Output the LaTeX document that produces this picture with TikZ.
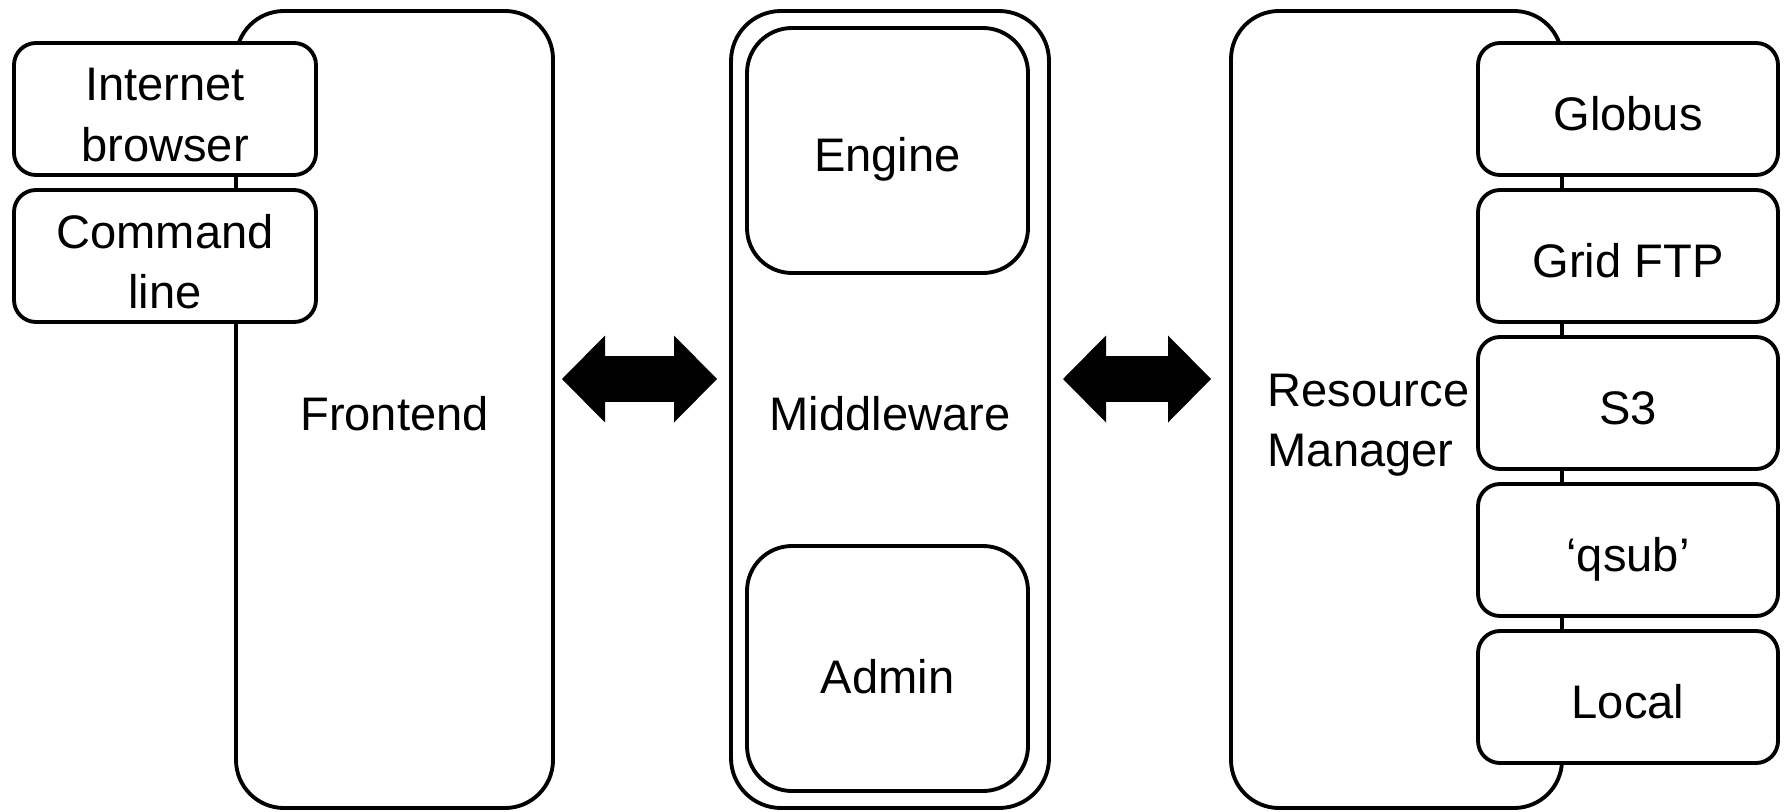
\documentclass[tikz,border=0pt]{standalone}
\usepackage{fontspec}
\setmainfont{Liberation Sans}
\usetikzlibrary{arrows.meta}

\tikzset{
	part/.style={draw, line width=1.1pt, rounded corners=0.48cm, inner sep=0pt, outer sep=0pt, minimum height=7.97cm},
	unit/.style={draw, line width=1.1pt, rounded corners=0.45cm, inner sep=0pt, outer sep=0pt, minimum width=2.81cm, minimum height=2.45cm},
	item/.style={draw, fill=white, line width=1.1pt, rounded corners=0.22cm, inner sep=0pt, outer sep=0pt, minimum width=3.0cm, minimum height=1.32cm},
	oneline/.style={text height=1.2em, text depth=0pt},
	twoline/.style={align=center, inner sep=0pt},
	twoway/.style={line width=0.46cm, {Triangle[length=0.43cm, width=0.87cm, line width=0pt]}-{Triangle[length=0.43cm, width=0.87cm, line width=0pt]}}
}

\begin{document}
\begin{tikzpicture}[font=\fontsize{13.4}{17.1}\selectfont]
		%%%%% START %%%%%
		\useasboundingbox (0, 0) rectangle (17.87, -8.11);
		
		% frontend
		\node[part, minimum width=3.17cm, oneline] (front) at (3.945, -4.095) {Frontend};
		\node[item, minimum width=3.02cm] (browser) at (1.65, -1.09) {};
		\node[twoline] (browsertext) at ([yshift=-0.06cm]browser.center) {Internet\\browser};
		\node[item, minimum width=3.02cm] (cmdline) at (1.65, -2.56) {};
		\node[twoline] (cmdlinetext) at ([yshift=-0.06cm]cmdline.center) {Command\\line};
		
		% middleware
		\node[part, minimum width=3.18cm, rounded corners=0.5cm, oneline] (mid) at (8.90, -4.095) {Middleware};
		\node[unit, oneline] (engine) at (8.875, -1.505) {Engine};
		\node[unit, oneline, text height=1.4em] (admin) at (8.875, -6.685) {Admin};
		
		% resource manager
		\node[part, minimum width=3.31cm] (rm) at (13.965, -4.095) {};
		\node[align=left, anchor=west, inner sep=0pt] (rmtext) at (12.67, -4.25) {Resource\\Manager};
		
		\node[item, oneline] (globus) at (16.28, -1.09) {Globus};
		\node[item, oneline] (gridftp) at (16.28, -2.56) {Grid FTP};
		\node[item, oneline] (s3) at (16.28, -4.03) {S3};
		\node[item, oneline] (qsub) at (16.28, -5.50) {‘qsub’};
		\node[item, oneline] (local) at (16.28, -6.97) {Local};
		
		% arrows
		\draw[twoway] ([shift={(0.09, 0.305)}]front.east) -- ([shift={(-0.14, 0.305)}]mid.west);
		\draw[twoway] ([shift={(0.14, 0.305)}]mid.east) -- ([shift={(-0.20, 0.305)}]rm.west);
		
		%%%%% END %%%%%
	\end{tikzpicture}
\end{document}
